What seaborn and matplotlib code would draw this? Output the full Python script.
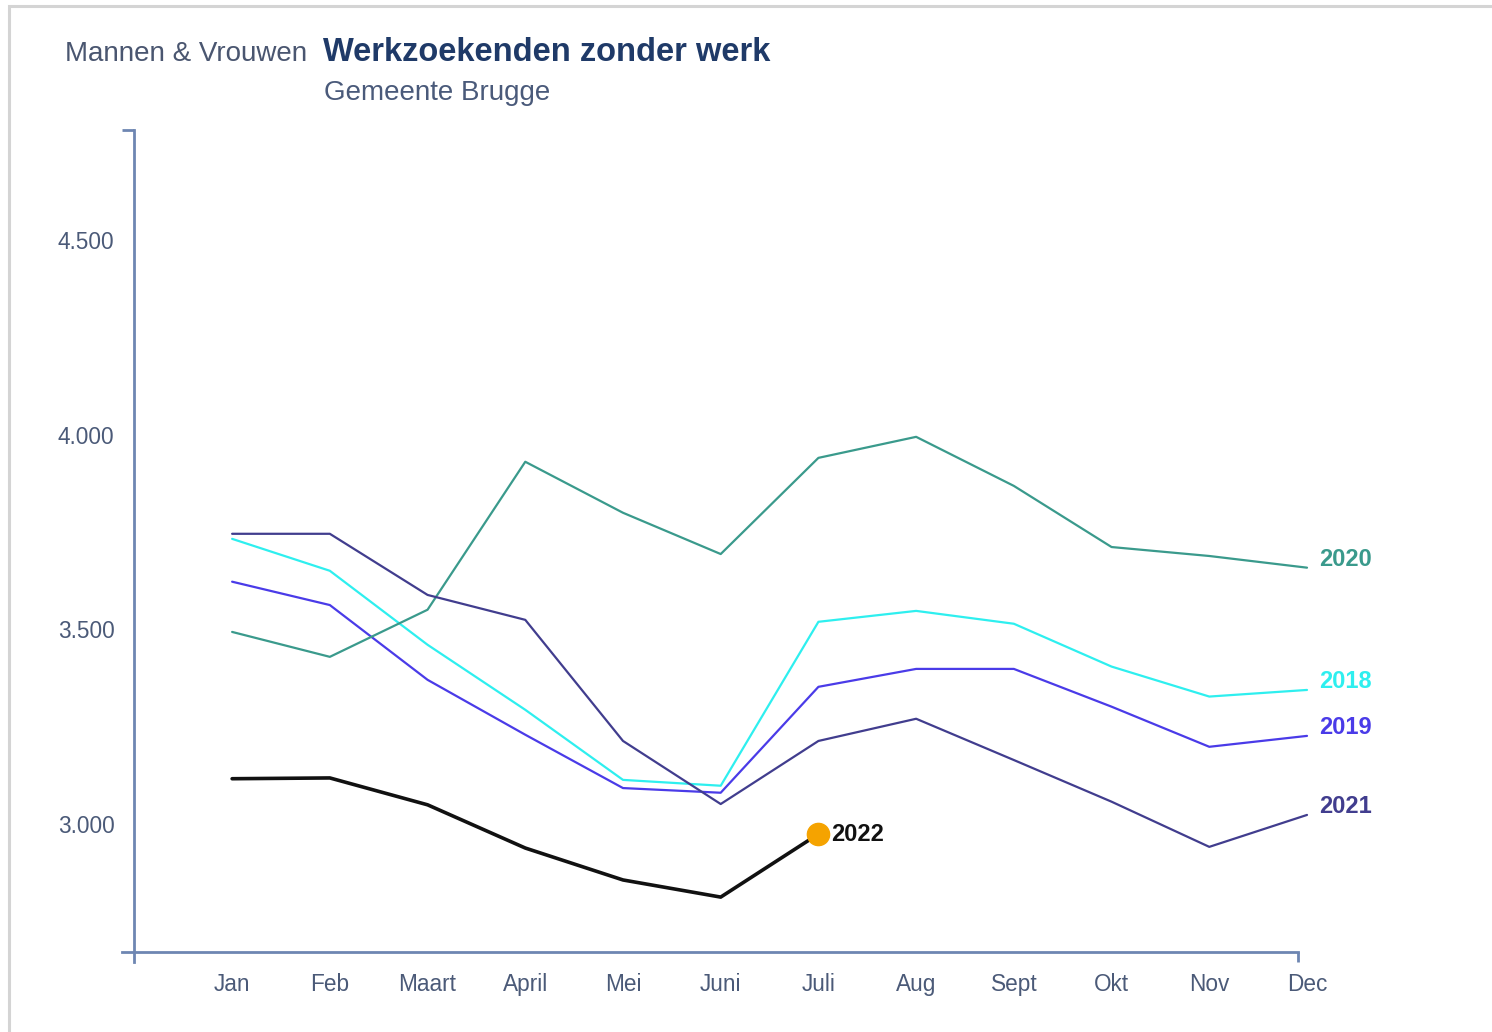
import matplotlib
matplotlib.use("Agg")
import matplotlib.pyplot as plt
from matplotlib.patches import Rectangle
import seaborn as sns
import pandas as pd

# Monthly counts of job seekers without work, Gemeente Brugge
months = ["Jan", "Feb", "Maart", "April", "Mei", "Juni",
          "Juli", "Aug", "Sept", "Okt", "Nov", "Dec"]
y2018 = [3732, 3650, 3460, 3293, 3113, 3098, 3519, 3547, 3514, 3404, 3327, 3344]
y2019 = [3622, 3562, 3370, 3229, 3092, 3080, 3352, 3398, 3398, 3301, 3198, 3226]
y2020 = [3493, 3429, 3550, 3930, 3799, 3693, 3940, 3994, 3868, 3711, 3688, 3658]
y2021 = [3745, 3745, 3588, 3524, 3213, 3051, 3213, 3270, 3164, 3057, 2941, 3023]
y2022 = [3116, 3118, 3049, 2938, 2856, 2812, 2974]

yticks = [3000, 3500, 4000, 4500]
ytick_labels = ["3.000", "3.500", "4.000", "4.500"]

series = {"2018": y2018, "2019": y2019, "2020": y2020, "2021": y2021}
colors = {"2018": "#2EEFEF", "2019": "#4A3BE8", "2020": "#3A9A8C",
          "2021": "#413D8E", "2022": "#111111"}

rows = []
for year, vals in series.items():
    for i, v in enumerate(vals):
        rows.append({"maand": i, "jaar": year, "aantal": v})
df = pd.DataFrame(rows)
df22 = pd.DataFrame({"maand": range(len(y2022)), "jaar": "2022", "aantal": y2022})

sns.set_theme(style="white")
plt.rcParams["font.family"] = ["Liberation Sans", "DejaVu Sans"]

W, H = 1492, 1032
fig = plt.figure(figsize=(W / 100, H / 100), dpi=100)
fig.patch.set_facecolor("white")

# card border
fig.add_artist(Rectangle((9 / W, -0.1), 1.2, 1 - 6 / H + 0.1,
                         transform=fig.transFigure, fill=False,
                         edgecolor="#d4d4d4", linewidth=2.2))

ax = fig.add_axes([122 / W, 80 / H, (1307 - 122) / W, (952 - 130) / H])
ax.set_facecolor("none")

sns.lineplot(data=df, x="maand", y="aantal", hue="jaar", palette=colors,
             linewidth=1.6, legend=False, ax=ax, clip_on=False)
sns.lineplot(data=df22, x="maand", y="aantal", color=colors["2022"],
             linewidth=2.6, legend=False, ax=ax, clip_on=False)

# highlight latest month of 2022
ax.plot(len(y2022) - 1, y2022[-1], "o", color="#F5A300", markersize=16,
        zorder=5, clip_on=False)

ax.annotate("2022", (len(y2022) - 1, y2022[-1]), xytext=(9, 0),
            textcoords="offset points", ha="left", va="center",
            fontsize=17, fontweight="bold", color="#111111", zorder=6)

for year, vals in series.items():
    ax.annotate(year, (len(vals) - 1, vals[-1]), xytext=(9, 6),
                textcoords="offset points", ha="left", va="center",
                fontsize=17, fontweight="bold", color=colors[year])

x_lo, x_hi = -1.127, 10.909
y_lo, y_hi = 2671, 4782
ax.set_xlim(x_lo, x_hi)
ax.set_ylim(y_lo, y_hi)

ax.set_xticks(range(len(months)))
ax.set_xticklabels(months)
ax.set_yticks(yticks)
ax.set_yticklabels(ytick_labels)
ax.set_xlabel("")
ax.set_ylabel("")

axis_color = "#6E86B2"
label_color = "#4B5A78"
for s in ["top", "right"]:
    ax.spines[s].set_visible(False)
x_spine = -1.005
ax.spines["left"].set_position(("data", x_spine))
ax.spines["left"].set_bounds(y_lo - 26, y_hi)
ax.spines["bottom"].set_bounds(x_lo, x_hi)
for s in ["left", "bottom"]:
    ax.spines[s].set_color(axis_color)
    ax.spines[s].set_linewidth(2.0)

ax.tick_params(axis="both", which="major", length=0, labelsize=16.3,
               labelcolor=label_color)
ax.tick_params(axis="x", which="major", pad=15)
ax.tick_params(axis="y", which="major", pad=14)

# end caps on the axis lines
ax.plot([x_lo, x_spine], [y_hi, y_hi], color=axis_color, lw=2.0,
        clip_on=False, solid_capstyle="butt")
ax.plot([x_hi, x_hi], [y_lo, y_lo - 26], color=axis_color, lw=2.0,
        clip_on=False, solid_capstyle="butt")

fig.text(65 / W, 1 - 61 / H, "Mannen & Vrouwen", fontsize=20,
         color="#4A5670", ha="left", va="baseline")
fig.text(323 / W, 1 - 61 / H, "Werkzoekenden zonder werk", fontsize=23.5,
         fontweight="bold", color="#1F3A68", ha="left", va="baseline")
fig.text(324 / W, 1 - 100 / H, "Gemeente Brugge", fontsize=20,
         color="#4A5A7A", ha="left", va="baseline")

fig.savefig("out.png", dpi=100)
